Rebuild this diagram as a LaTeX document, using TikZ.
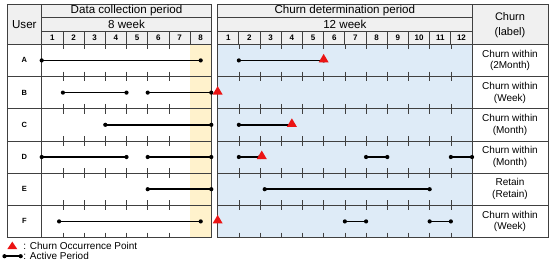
\documentclass[tikz,border=0pt]{standalone}
\usepackage{fontspec}
\setmainfont{Liberation Sans}
\usepackage{tikz}
\usetikzlibrary{arrows.meta,calc}

\definecolor{hdrgray}{RGB}{240,240,240}
\definecolor{wkbeige}{RGB}{255,242,204}
\definecolor{churnblue}{RGB}{222,235,247}
\definecolor{rulegray}{RGB}{64,64,64}
\definecolor{churnred}{RGB}{235,20,20}

% active period: row, start, end
\newcommand{\actseg}[3]{%
  \draw[act] (#2,#1) -- (#3,#1);
  \fill (#2,#1) circle (2.1pt) (#3,#1) circle (2.1pt);}
% churn occurrence point: row, position
\newcommand{\churnmark}[2]{%
  \fill[churnred] (#2,#1) ++(-5pt,-2pt) -- ++(10pt,0pt) -- ++(-5pt,8.5pt) -- cycle;}

\begin{document}
\begin{tikzpicture}[x=21.2pt,y=-32.2pt,
  rule/.style={rulegray,line width=0.8pt},
  wktick/.style={rulegray,line width=0.6pt},
  ttl/.style={inner sep=0pt,font=\fontsize{11.6}{13}\selectfont},
  num/.style={inner sep=0pt,font=\fontsize{8}{9}\selectfont\bfseries},
  usr/.style={inner sep=0pt,font=\fontsize{7.5}{9}\selectfont\bfseries},
  lbl/.style={inner sep=0pt,align=center,font=\fontsize{10}{11.7}\selectfont},
  leg/.style={anchor=west,inner sep=0pt,font=\fontsize{10}{12}\selectfont},
  act/.style={line width=1.5pt}]
  \useasboundingbox (-1.967,-1.376) rectangle (23.976,6.854);

  % backgrounds
  \fill[hdrgray] (-1.637,-1.25) rectangle (8,0);
  \fill[hdrgray] (8.3,-1.25) rectangle (23.88,0);
  \fill[wkbeige] (7,0) rectangle (8,6);
  \fill[churnblue] (8.3,0) rectangle (20.3,6);

  % table rules
  \foreach \y in {-1.25,0,1,2,3,4,5} {
    \draw[rule] (-1.637,\y) -- (8,\y);
    \draw[rule] (8.3,\y) -- (23.88,\y);
  }
  \foreach \y in {-0.822,-0.391} {
    \draw[rule] (0,\y) -- (8,\y);
    \draw[rule] (8.3,\y) -- (20.3,\y);
  }
  \foreach \x in {1,...,7} \draw[rule] (\x,-0.391) -- (\x,0);
  \foreach \x in {1,...,11} \draw[rule] (8.3+\x,-0.391) -- (8.3+\x,0);
  \foreach \x in {-1.637,0,8,8.3,20.3,23.88} \draw[rule] (\x,-1.25) -- (\x,6);
  \draw[rule,line width=1.2pt] (-1.637,6) -- (8,6) (8.3,6) -- (23.88,6);

  % week ticks
  \begin{scope}
    \clip (0,0) rectangle (20.3,6);
    \foreach \y in {0,...,6} {
      \foreach \x in {1,...,6} \draw[wktick] (\x,\y-0.15) -- (\x,\y+0.15);
      \foreach \x in {1,...,11} \draw[wktick] (8.3+\x,\y-0.15) -- (8.3+\x,\y+0.15);
    }
  \end{scope}

  % headers
  \node[ttl] (user) at (-0.818,-0.61) {User};
  \node[ttl] (datattl) at (4,-1.036) {Data collection period};
  \node[ttl] (datawk) at (4,-0.606) {8 week};
  \node[ttl] (churnttl) at (14.3,-1.036) {Churn determination period};
  \node[ttl] (churnwk) at (14.3,-0.606) {12 week};
  \node[lbl,font=\fontsize{11}{14.5}\selectfont] (label) at (22.09,-0.6) {Churn\\(label)};
  \foreach \i in {1,...,8} \node[num] (d\i) at (\i-0.5,-0.196) {\i};
  \foreach \i in {1,...,12} \node[num] (c\i) at (8.3+\i-0.5,-0.196) {\i};

  % users and labels
  \foreach \u [count=\r] in {A,B,C,D,E,F} \node[usr] (u\u) at (-0.818,\r-0.5) {\u};
  \foreach \t/\s [count=\r] in {Churn within/(2Month),Churn within/(Week),
      Churn within/(Month),Churn within/(Month),Retain/(Retain),Churn within/(Week)}
    \node[lbl] (l\r) at (22.09,\r-0.5) {\t\\\s};

  % active periods
  \actseg{0.5}{0}{7.5}   \actseg{0.5}{9.3}{13.3}
  \actseg{1.5}{1}{4}     \actseg{1.5}{5}{8}
  \actseg{2.5}{3}{8}     \actseg{2.5}{9.3}{11.8}
  \actseg{3.5}{0}{4}     \actseg{3.5}{5}{8}
  \actseg{3.5}{9.3}{10.3} \actseg{3.5}{15.3}{16.3} \actseg{3.5}{19.3}{20.3}
  \actseg{4.5}{5}{8}     \actseg{4.5}{10.52}{18.3}
  \actseg{5.5}{0.82}{7.5} \actseg{5.5}{14.3}{15.3} \actseg{5.5}{18.3}{19.3}

  % churn occurrence points
  \churnmark{0.5}{13.3}
  \churnmark{1.5}{8.3}
  \churnmark{2.5}{11.8}
  \churnmark{3.5}{10.38}
  \churnmark{5.5}{8.3}

  % legend
  \fill[churnred] (-1.387,6.36) ++(-5pt,0pt) -- ++(10pt,0pt) -- ++(-5pt,7.5pt) -- cycle;
  \node[leg] (legchurn) at (-0.87,6.264) {: Churn Occurrence Point};
  \actseg{6.58}{-1.755}{-0.99}
  \node[leg] (legact) at (-0.87,6.58) {: Active Period};
\end{tikzpicture}
\end{document}
